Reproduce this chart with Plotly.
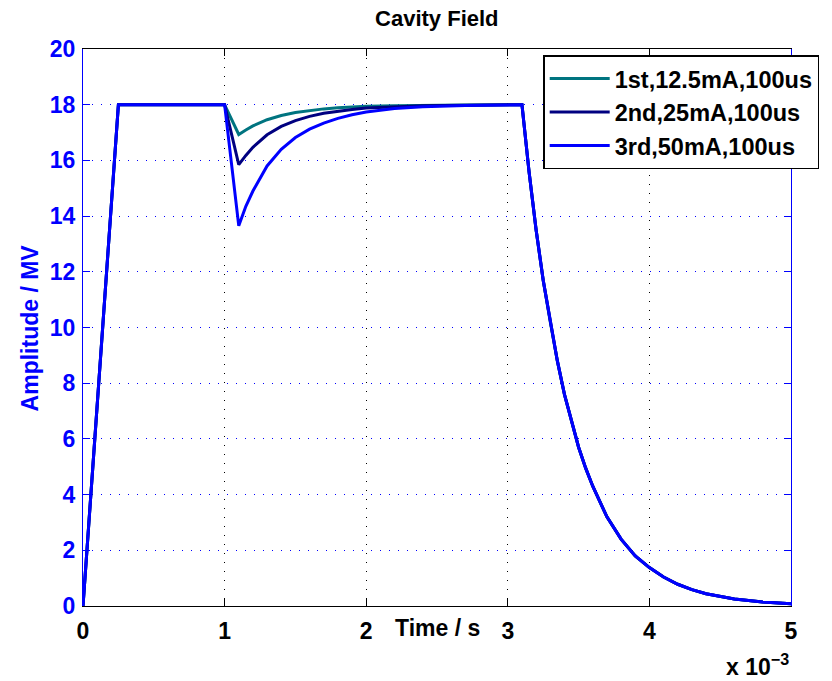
import plotly.graph_objects as go

# time in ms (axis shows x 10^-3 s)
t_ramp = [0.0, 0.25, 1.0]
v_ramp = [0.0, 18.0, 18.0]

t_rec = [1.1, 1.15, 1.2, 1.3, 1.4, 1.5, 1.6, 1.7, 1.8, 1.9, 2.0, 2.2, 2.4, 2.7, 3.1]
v_rec_1st = [16.93, 17.09, 17.24, 17.46, 17.61, 17.72, 17.79, 17.85, 17.89, 17.92, 17.94, 17.96, 17.98, 17.99, 18.0]
v_rec_2nd = [15.85, 16.18, 16.47, 16.92, 17.22, 17.43, 17.58, 17.69, 17.77, 17.83, 17.88, 17.93, 17.96, 17.98, 18.0]
v_rec_3rd = [13.65, 14.35, 14.90, 15.80, 16.40, 16.82, 17.12, 17.34, 17.51, 17.64, 17.74, 17.86, 17.93, 17.97, 18.0]

t_dec = [3.15, 3.2, 3.25, 3.3, 3.35, 3.4, 3.45, 3.5, 3.55, 3.6, 3.7, 3.8, 3.9, 4.0, 4.1, 4.2, 4.3, 4.4, 4.6, 4.8, 5.0]
v_dec = [15.6, 13.5, 11.7, 10.2, 8.8, 7.6, 6.6, 5.7, 4.95, 4.3, 3.2, 2.4, 1.8, 1.38, 1.04, 0.78, 0.59, 0.44, 0.25, 0.14, 0.08]

names = ["1st,12.5mA,100us", "2nd,25mA,100us", "3rd,50mA,100us"]
colors = ["#007480", "#000080", "#0000ff"]
recs = [v_rec_1st, v_rec_2nd, v_rec_3rd]

y_ticks = list(range(0, 21, 2))
x_ticks = [0, 1, 2, 3, 4, 5]

FONT = "Liberation Sans, Arial, Helvetica, sans-serif"
FS = 23

fig = go.Figure()
for name, col, rec in zip(names, colors, recs):
    fig.add_trace(go.Scatter(
        x=t_ramp + t_rec + t_dec,
        y=v_ramp + rec + v_dec,
        mode="lines", name=f"<b>{name}</b>",
        line=dict(color=col, width=3),
    ))

fig.update_layout(
    width=832, height=681,
    margin=dict(l=83, r=41, t=49, b=75),
    paper_bgcolor="white", plot_bgcolor="white",
    font=dict(family=FONT, size=FS, color="black"),
    title=dict(text="<b>Cavity Field</b>", x=0.525, xanchor="center",
               y=1 - 18 / 681, yanchor="middle", yref="container",
               font=dict(size=22, color="black", family=FONT)),
    showlegend=True,
    legend=dict(x=0.65, xanchor="left", y=0.989, yanchor="top",
                bgcolor="white", bordercolor="black", borderwidth=1.5,
                font=dict(size=FS + 0.5, color="black", family=FONT),
                itemwidth=60, tracegroupgap=0),
    xaxis=dict(range=[0, 5], tickvals=x_ticks, ticktext=[f"<b>{v}</b>" for v in x_ticks],
               showline=True, linecolor="black", linewidth=1, mirror="ticks",
               ticks="inside", ticklen=7, tickcolor="black",
               showgrid=True, gridcolor="black", gridwidth=1, griddash="1px,8px",
               zeroline=False, tickfont=dict(size=FS, color="black"),
               ticklabelstandoff=4),
    yaxis=dict(range=[0, 20], tickvals=y_ticks, ticktext=[f"<b>{v}</b>" for v in y_ticks],
               showline=True, linecolor="#0000ff", linewidth=1, mirror="ticks",
               ticks="inside", ticklen=7, tickcolor="#0000ff",
               showgrid=True, gridcolor="#0000ff", gridwidth=1, griddash="1px,8px",
               zeroline=False, tickfont=dict(size=FS, color="#0000ff"),
               ticklabelstandoff=2),
    annotations=[
        dict(text="<b>Time / s</b>", xref="paper", yref="paper", x=0.5, y=-0.04,
             xanchor="center", yanchor="middle", showarrow=False,
             font=dict(size=FS, color="black")),
        dict(text="<b>Amplitude / MV</b>", xref="paper", yref="paper", x=-0.075, y=0.5,
             xanchor="center", yanchor="middle", textangle=-90, showarrow=False,
             font=dict(size=FS, color="#0000ff")),
        dict(text="<b>x 10<sup>\u22123</sup></b>", xref="paper", yref="paper", x=1.0, y=-0.136,
             xanchor="right", yanchor="bottom", showarrow=False,
             font=dict(size=FS, color="black")),
    ],
)

fig.write_html("out.html")
